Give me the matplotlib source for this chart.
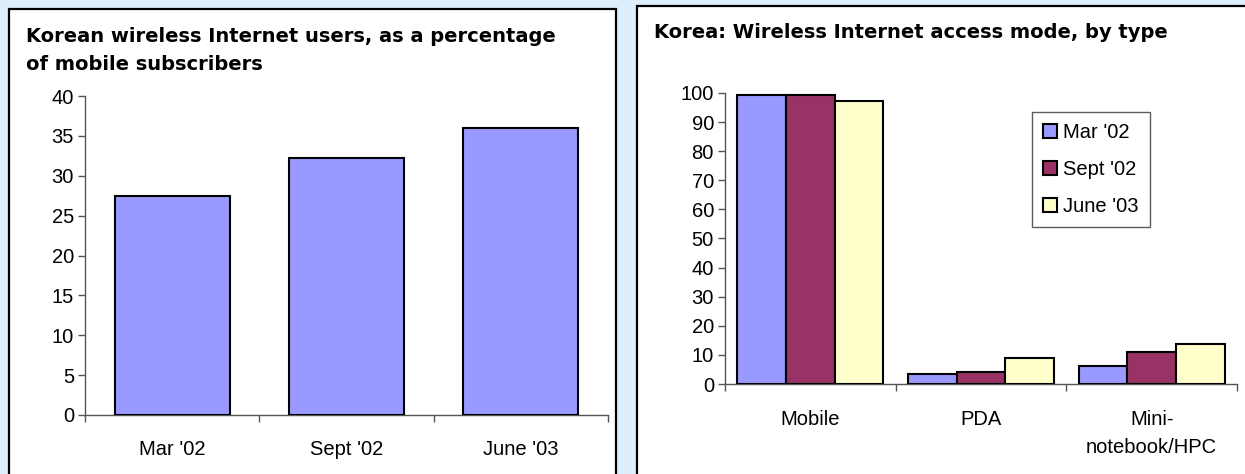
import numpy as np
import matplotlib
matplotlib.use("Agg")
import matplotlib.pyplot as plt
from matplotlib.patches import Rectangle

plt.rcParams['font.family'] = ['Liberation Sans', 'DejaVu Sans']

# left chart data
periods = ["Mar '02", "Sept '02", "June '03"]
users_pct = [27.4, 32.2, 36.0]

# right chart data
access_types = ["Mobile", "PDA", "Mini-\nnotebook/HPC"]
mar02 = [99.2, 3.4, 6.1]
sep02 = [99.2, 4.0, 10.9]
jun03 = [97.3, 8.8, 13.7]

colors = ["#9999FF", "#993366", "#FFFFCC"]
W, H = 1245, 474

fig = plt.figure(figsize=(W / 100, H / 100), dpi=100)
fig.patch.set_facecolor("#DDEEFC")


def px_rect(x0, y0, x1, y1):
    return [x0 / W, 1 - y1 / H, (x1 - x0) / W, (y1 - y0) / H]


# panel boxes
for x0, y0, x1, y1 in [(9, 9, 616, 490), (637, 6, 1260, 490)]:
    l, b, w, h = px_rect(x0, y0, x1, y1)
    fig.patches.append(Rectangle((l, b), w, h, transform=fig.transFigure,
                                 facecolor="white", edgecolor="black",
                                 linewidth=1.6, zorder=-5))


def style_axes(ax, ymax, step):
    ax.set_zorder(2)
    for s in ["top", "right"]:
        ax.spines[s].set_visible(False)
    for s in ["left", "bottom"]:
        ax.spines[s].set_color("#555555")
        ax.spines[s].set_linewidth(1.0)
    ax.set_xlim(-0.5, 2.5)
    ax.set_ylim(0, ymax)
    ax.set_yticks(np.arange(0, ymax + 1, step))
    ax.set_xticks([-0.5, 0.5, 1.5, 2.5])
    ax.set_xticklabels([])
    ax.tick_params(axis="x", which="major", length=5, color="#555555", width=1)
    ax.tick_params(axis="y", length=5, color="#555555", width=1, labelsize=14.5, pad=3)
    ax.set_facecolor("white")


title_font = dict(fontsize=14, fontweight="bold", family="DejaVu Sans", zorder=3)

# left chart
ax1 = fig.add_axes(px_rect(85, 96, 608, 415))
x = np.arange(len(periods))
ax1.bar(x, users_pct, width=0.66, color=colors[0], edgecolor="black",
        linewidth=1.5, zorder=3)
style_axes(ax1, 40, 5)
ax1.set_xticks(x, minor=True)
ax1.set_xticklabels(periods, minor=True)
ax1.tick_params(axis="x", which="minor", length=0, labelsize=14.5, pad=18)
fig.text(26 / W, 1 - 51 / H, "Korean wireless Internet users, as a percentage\nof mobile subscribers",
         ha="left", va="center", linespacing=1.6, **title_font)

# right chart
ax2 = fig.add_axes(px_rect(725, 93, 1237, 384))
x = np.arange(len(access_types))
bw = 0.285
for i, (vals, lab) in enumerate(zip([mar02, sep02, jun03], ["Mar '02", "Sept '02", "June '03"])):
    ax2.bar(x + (i - 1) * bw, vals, width=bw, color=colors[i], edgecolor="black",
            linewidth=1.5, label=lab, zorder=3)
style_axes(ax2, 100, 10)
ax2.set_xticks(x, minor=True)
ax2.set_xticklabels(access_types, minor=True, linespacing=1.6, va="top")
ax2.tick_params(axis="x", which="minor", length=0, labelsize=14.5, pad=19)
fig.text(654 / W, 1 - 33 / H, "Korea: Wireless Internet access mode, by type",
         ha="left", va="center", **title_font)

leg = ax2.legend(loc="upper left", bbox_to_anchor=((1032 - 725) / 512, (384 - 112) / 291),
                 fontsize=14.5, frameon=True, fancybox=False, handlelength=0.7,
                 handleheight=0.7, handletextpad=0.3, labelspacing=0.9,
                 borderpad=0.55, borderaxespad=0)
leg.get_frame().set_edgecolor("#333333")
leg.get_frame().set_linewidth(1.0)

fig.savefig("out.png", dpi=100, facecolor=fig.get_facecolor())
